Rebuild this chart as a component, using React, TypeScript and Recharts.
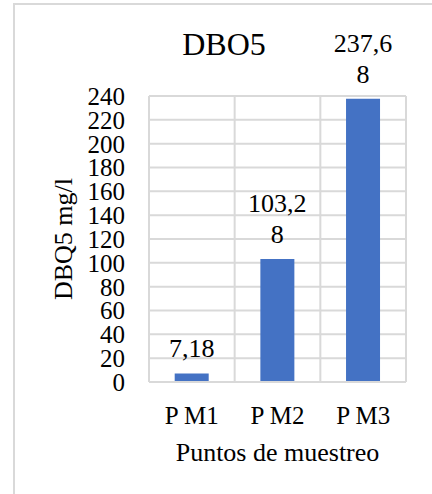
import React from 'react';
import { BarChart, Bar, XAxis, YAxis, CartesianGrid, LabelList, Label, Customized } from 'recharts';

// Sampling points and their DBO5 readings (mg/l)
const puntos = ['P M1', 'P M2', 'P M3'];
const dbo5 = [7.18, 103.28, 237.68];
const yTicks = [0, 20, 40, 60, 80, 100, 120, 140, 160, 180, 200, 220, 240];

const data = puntos.map((p, i) => ({ punto: p, valor: dbo5[i] }));

const FONT = 'Times New Roman, Liberation Serif, DejaVu Serif, serif';
const GRID = '#d9d9d9';

const textStyle = (size: number): React.CSSProperties => ({ fontFamily: FONT, fontSize: size });

// Value label: decimal comma, wrapped every 5 characters like a narrow text box
const renderValue = (props: any) => {
  const { x, y, width, value } = props;
  const txt = Number(value).toFixed(2).replace('.', ',');
  const lines: string[] = [];
  for (let i = 0; i < txt.length; i += 5) lines.push(txt.slice(i, i + 5));
  const cx = x + width / 2;
  const n = lines.length;
  return (
    <g>
      {lines.map((ln, i) => (
        <text
          key={i}
          x={cx}
          y={y - 25 - (n - 1 - i) * 31 + 9}
          textAnchor="middle"
          style={textStyle(26)}
          fill="#000"
        >
          {ln}
        </text>
      ))}
    </g>
  );
};

const renderYTitle = (props: any) => {
  const vb = props.viewBox;
  const cy = vb.y + vb.height / 2;
  const x = 72;
  return (
    <text
      x={x}
      y={cy}
      transform={`rotate(-90, ${x}, ${cy})`}
      textAnchor="middle"
      style={textStyle(26)}
      fill="#000"
    >
      DBQ5 mg/l
    </text>
  );
};

const renderXTitle = (props: any) => {
  const vb = props.viewBox;
  const cx = vb.x + vb.width / 2;
  return (
    <text x={cx} y={461} textAnchor="middle" style={textStyle(26)} fill="#000">
      Puntos de muestreo
    </text>
  );
};

const Frame = () => (
  <g>
    <path d="M14 494 V4 H432" fill="none" stroke={GRID} strokeWidth={2} />
    <text x={224} y={55} textAnchor="middle" style={textStyle(32)} fill="#000">
      DBO5
    </text>
  </g>
);

export default function App() {
  return (
    <div style={{ position: 'absolute', left: 0, top: 0, width: 432, height: 494, overflow: 'hidden', background: '#fff' }}>
      <BarChart
        width={432}
        height={494}
        data={data}
        margin={{ top: 96, right: 26, bottom: 0, left: 0 }}
        barCategoryGap="30%"
      >
        <Customized component={Frame} />
        <CartesianGrid
          stroke={GRID}
          strokeWidth={2}
          verticalCoordinatesGenerator={({ offset }: any) =>
            puntos.map((_, i) => offset.left + (offset.width * i) / puntos.length).concat([offset.left + offset.width])
          }
        />
        <XAxis
          dataKey="punto"
          height={112}
          axisLine={{ stroke: GRID, strokeWidth: 2 }}
          tickLine={false}
          tickSize={0}
          tickMargin={24}
          interval={0}
          tick={{ style: textStyle(25), fill: '#000' }}
        >
          <Label content={renderXTitle} />
        </XAxis>
        <YAxis
          width={149}
          domain={[0, 240]}
          ticks={yTicks}
          interval={0}
          axisLine={false}
          tickLine={false}
          tickSize={0}
          tickMargin={24}
          tick={{ style: textStyle(25), fill: '#000' }}
        >
          <Label content={renderYTitle} />
        </YAxis>
        <Bar dataKey="valor" fill="#4472C4" isAnimationActive={false}>
          <LabelList dataKey="valor" content={renderValue} />
        </Bar>
      </BarChart>
    </div>
  );
}
